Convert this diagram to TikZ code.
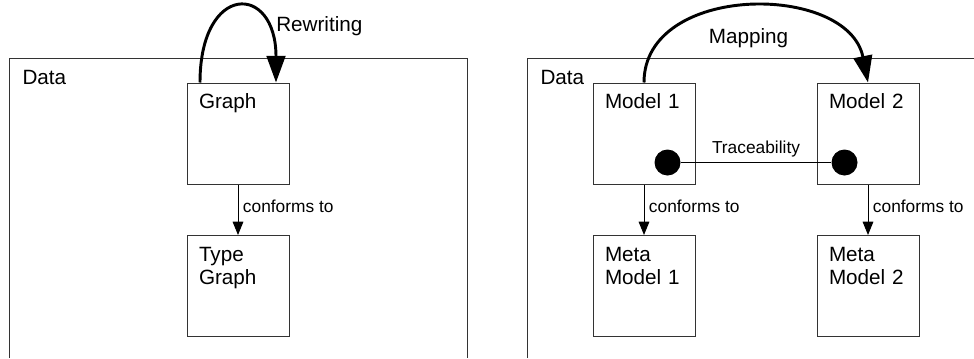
\documentclass[tikz,border=0pt]{standalone}
\usepackage{fontspec}
\setmainfont{Liberation Sans}
\usetikzlibrary{arrows.meta}
\newcommand{\boxfont}{\fontsize{15.5}{17.5}\selectfont}
\newcommand{\smallfont}{\fontsize{13}{15}\selectfont}
\tikzset{box style/.style={
		draw=black!80,
		line width=0.75pt,
		rectangle,
		align=left,
		text width=58.5pt,
		text height=11.1pt,
		text depth=48.15pt,
		inner xsep=9pt,
		inner ysep=8.25pt,
		font=\boxfont,
	},
	data style/.style={
		anchor=west,
		inner sep=0pt,
		font=\boxfont,
	},
	frame style/.style={
		draw=black!80,
		line width=0.75pt,
	},
	dot style/.style={
		circle,
		fill=black,
		minimum size=19.5pt,
		inner sep=0pt,
	},
	map style/.style={
		-{Triangle[length=20pt,width=14pt]},
		line width=2.2pt,
	},
	map label/.style={
		text=black,
		font=\boxfont,
	},
	edge style/.style={
		text=black,
		font=\smallfont,
	}
}
\begin{document}
\begin{tikzpicture}[x=0.75pt,y=-0.75pt,node distance=114.375pt,line width=0.75pt,
	>={Triangle[length=10pt,width=8pt]}]
	\useasboundingbox (0,0) rectangle (974,358);
	
	% graph rewriting
	\draw[frame style] (9,358) |- (467,58) -- (467,358);
	\node[data style] (DataLeft) at (22,77) {Data};
	
	\node[box style] (Graph) at (238,133.5) {Graph};
	
	\node[box style, below of=Graph] (TypeGraph) {Type\\Graph}
	edge [<-] node[edge style,right,yshift=2.5pt]{conforms to} (Graph);
	
	\draw[map style] ([xshift=-28.5pt]Graph.north) .. controls +(0,-100) and +(0,-100) .. ([xshift=28.5pt]Graph.north)
	node[map label,pos=0.75,right,inner xsep=8pt]{Rewriting};
	
	% model mapping
	\draw[frame style] (527,358) |- (974,58);
	\node[data style] (DataRight) at (540,77) {Data};
	
	\node[box style] (Model1) at (644,133.5) {Model 1};
	
	\node[box style, right of=Model1,xshift=53.625pt] (Model2) {Model 2};
	
	\node[box style, below of=Model1] (MetaModel1) {Meta\\Model 1}
	edge [<-] node[edge style,right,yshift=2.5pt]{conforms to} (Model1);
	
	\node[box style, below of=Model2] (MetaModel2) {Meta\\Model 2}
	edge [<-] node[edge style,right,yshift=2.5pt]{conforms to} (Model2);
	
	\node[dot style] (Trace1) at ([xshift=-21pt,yshift=16.5pt]Model1.south east) {};
	\node[dot style] (Trace2) at ([xshift=21pt,yshift=16.5pt]Model2.south west) {};
	\draw (Trace1) -- (Trace2) node[edge style,midway,above]{Traceability};
	
	\draw[map style] (Model1.north) .. controls +(0,-100) and +(-20,-100) .. (Model2.north)
	node[map label,midway,below,inner sep=0pt,yshift=-15pt]{Mapping};
\end{tikzpicture}
\end{document}
